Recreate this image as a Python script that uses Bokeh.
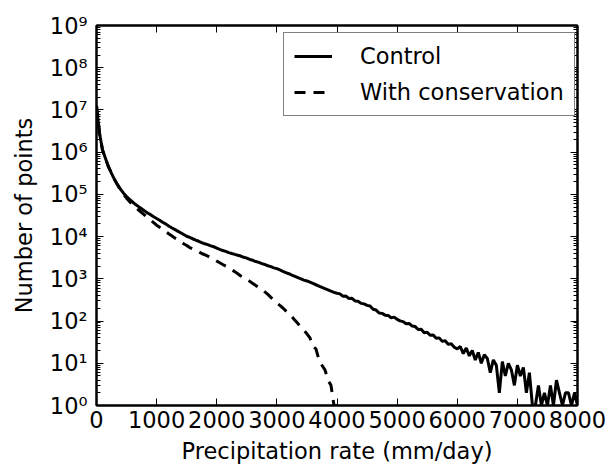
from bokeh.plotting import figure
from bokeh.models import LinearAxis, LogAxis, FixedTicker, Legend, LegendItem, Range1d
from bokeh.embed import file_html
from bokeh.resources import INLINE

# Precipitation-rate bins (mm/day)
rate_control = list(range(0, 8001, 50))
rate_conserve = list(range(0, 4001, 50))

# Number of points, control run
count_control = [
    12600000, 2800000, 1120000, 708000, 447000, 316000, 224000, 170000, 132000, 107000,
    89000, 76000, 66000, 57500, 51300, 45700, 40700, 36300, 33100, 29500,
    26900, 24500, 21900, 20000, 17800, 16200, 14800, 13500, 12300, 11200,
    10200, 9550, 8900, 8300, 7760, 7240, 6760, 6460, 6030, 5750,
    5370, 5010, 4680, 4470, 4170, 3980, 3800, 3630, 3470, 3240,
    3090, 2880, 2750, 2570, 2450, 2290, 2190, 2040, 1950, 1820,
    1740, 1620, 1510, 1410, 1320, 1230, 1150, 1070, 1000, 933,
    891, 832, 776, 724, 676, 631, 589, 550, 513, 479,
    457, 440, 385, 390, 340, 345, 300, 295, 262, 255,
    235, 228, 190, 182, 155, 152, 138, 136, 120, 124,
    110, 101, 97, 86, 88, 76, 74, 63, 64, 53,
    54, 46, 47, 39, 40, 33, 34, 28, 29, 24,
    22, 25, 17, 23, 15, 20, 12, 18, 10, 16,
    13, 6, 12, 9, 2, 11, 5, 10, 7, 3,
    9, 5, 8, 2, 6, 1, 1, 3, 1, 2,
    1, 3, 1, 4, 2, 1, 2, 2, 1, 2, 1,
]

# Number of points, with conservation
count_conserve = [
    12600000, 2820000, 1120000, 708000, 447000, 316000, 224000, 166000, 126000, 100000,
    81300, 67600, 57500, 49000, 42700, 37200, 32400, 28200, 24500, 21400,
    18600, 16600, 14800, 13200, 11700, 10500, 9330, 8510, 7590, 6760,
    6170, 5500, 5130, 4680, 4370, 3980, 3720, 3470, 3160, 2880,
    2630, 2400, 2190, 2000, 1820, 1620, 1480, 1320, 1170, 1070,
    977, 871, 776, 692, 631, 562, 490, 427, 363, 316,
    269, 234, 204, 174, 151, 126, 105, 87, 72, 60,
    50, 40, 25, 22, 12, 9, 7, 4, 3, 1, 1,
]

x_ticks = [0, 1000, 2000, 3000, 4000, 5000, 6000, 7000, 8000]
y_exponents = [0, 1, 2, 3, 4, 5, 6, 7, 8, 9]
sup = {0: "\u2070", 1: "\u00b9", 2: "\u00b2", 3: "\u00b3", 4: "\u2074",
       5: "\u2075", 6: "\u2076", 7: "\u2077", 8: "\u2078", 9: "\u2079"}

FONT = "DejaVu Sans"
FS = "22.5px"

p = figure(width=606, height=467, y_axis_type="log",
           x_range=Range1d(0, 8000), y_range=Range1d(1, 1e9),
           output_backend="svg", toolbar_location=None,
           min_border_left=96, min_border_right=29,
           min_border_top=25, min_border_bottom=62)
p.xgrid.visible = False
p.ygrid.visible = False
p.outline_line_color = "black"
p.outline_line_width = 2
p.background_fill_color = "white"
p.border_fill_color = "white"

y_major = [10.0 ** e for e in y_exponents]
y_minor = [k * 10.0 ** e for e in y_exponents[:-1] for k in range(2, 10)]
y_ticker = FixedTicker(ticks=y_major, minor_ticks=y_minor)
x_ticker = FixedTicker(ticks=x_ticks)

r1 = p.line(rate_control, count_control, line_color="black", line_width=3)
r2 = p.line(rate_conserve, count_conserve, line_color="black", line_width=3,
            line_dash="11 8")

def style(ax):
    ax.axis_line_color = "black"
    ax.axis_line_width = 2
    ax.major_tick_in = 7
    ax.major_tick_out = 0
    ax.minor_tick_in = 4
    ax.minor_tick_out = 0
    ax.major_tick_line_color = "black"
    ax.major_tick_line_width = 1
    ax.minor_tick_line_color = "black"
    ax.minor_tick_line_width = 1
    ax.major_label_text_font = FONT
    ax.major_label_text_font_size = FS
    ax.major_label_text_color = "black"
    ax.axis_label_text_font = FONT
    ax.axis_label_text_font_size = FS
    ax.axis_label_text_font_style = "normal"
    ax.axis_label_text_color = "black"

ya = p.yaxis[0]
style(ya)
ya.ticker = y_ticker
ya.major_label_overrides = {10.0 ** e: "10" + sup[e] for e in y_exponents}
ya.axis_label = "Number of points"
ya.major_label_standoff = 9
ya.axis_label_standoff = 10

xa = p.xaxis[0]
style(xa)
xa.ticker = x_ticker
xa.minor_tick_line_color = None
xa.axis_label = "Precipitation rate (mm/day)"
xa.major_label_standoff = 5
xa.axis_label_standoff = 7

top = LinearAxis(ticker=x_ticker)
style(top)
top.minor_tick_line_color = None
top.major_label_text_font_size = "2px"
top.major_label_text_color = None
top.major_label_standoff = 0
p.add_layout(top, "above")

right = LogAxis(ticker=y_ticker)
style(right)
right.major_label_text_font_size = "2px"
right.major_label_text_color = None
right.major_label_standoff = 0
p.add_layout(right, "right")

legend = Legend(items=[LegendItem(label="Control", renderers=[r1]),
                       LegendItem(label="With conservation", renderers=[r2])],
                location=(187, 289))
legend.label_text_font = FONT
legend.label_text_font_size = FS
legend.label_text_color = "black"
legend.glyph_width = 38
legend.glyph_height = 26
legend.label_height = 26
legend.label_standoff = 28
legend.spacing = 10
legend.padding = 10
legend.margin = 0
legend.border_line_color = "black"
legend.border_line_width = 1.5
legend.background_fill_alpha = 1
p.add_layout(legend)

open("out.html", "w").write(file_html(p, INLINE))
